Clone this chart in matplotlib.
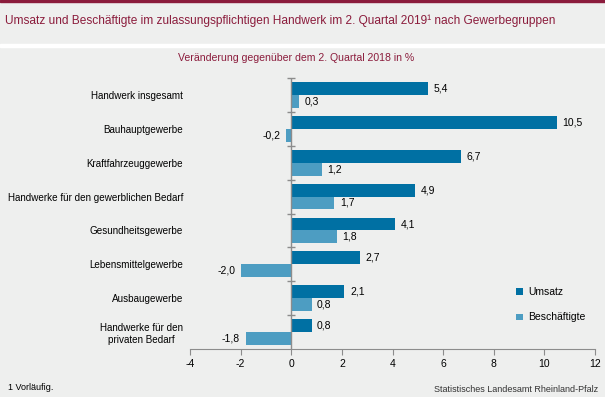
import matplotlib
matplotlib.use("Agg")
import matplotlib.pyplot as plt
from matplotlib.patches import Rectangle

plt.rcParams["font.family"] = ["Liberation Sans", "DejaVu Sans"]

categories = [
    "Handwerk insgesamt",
    "Bauhauptgewerbe",
    "Kraftfahrzeuggewerbe",
    "Handwerke für den gewerblichen Bedarf",
    "Gesundheitsgewerbe",
    "Lebensmittelgewerbe",
    "Ausbaugewerbe",
    "Handwerke für den\nprivaten Bedarf",
]
umsatz = [5.4, 10.5, 6.7, 4.9, 4.1, 2.7, 2.1, 0.8]
beschaeftigte = [0.3, -0.2, 1.2, 1.7, 1.8, -2.0, 0.8, -1.8]
xticks = [-4, -2, 0, 2, 4, 6, 8, 10, 12]

bg = "#eeefee"
red = "#8b1c3c"
c_ums = "#0070a3"
c_bes = "#4d9dc2"
grey = "#8c8c8c"

W, H = 605, 397
fig = plt.figure(figsize=(W / 100, H / 100), dpi=100, facecolor=bg)

# header decorations
fig.patches.append(Rectangle((0, 1 - 2 / H), 1, 2 / H, transform=fig.transFigure,
                             color=red, zorder=0))
fig.patches.append(Rectangle((0, 1 - 47 / H), 1, 3 / H, transform=fig.transFigure,
                             color="white", zorder=0))

fig.text(5 / W, 1 - 21 / H,
         "Umsatz und Beschäftigte im zulassungspflichtigen Handwerk im 2. Quartal 2019¹ nach Gewerbegruppen",
         color=red, fontsize=8.6, va="center", ha="left")
fig.text(178 / W, 1 - 58 / H, "Veränderung gegenüber dem 2. Quartal 2018 in %",
         color=red, fontsize=7.6, va="center", ha="left")
fig.text(8 / W, 1 - 388 / H, "1 Vorläufig.", fontsize=6.5, va="center", ha="left")
fig.text(598 / W, 1 - 389 / H, "Statistisches Landesamt Rheinland-Pfalz",
         fontsize=6.5, va="center", ha="right", color="#333333")

ax = fig.add_axes([190 / W, 48 / H, 405 / W, 271 / H])
ax.set_facecolor(bg)

y = list(range(len(categories)))
h = 0.38
y_u = [v - h / 2 for v in y]
y_b = [v + h / 2 for v in y]
ax.barh(y_u, umsatz, height=h, color=c_ums, label="Umsatz", zorder=2)
ax.barh(y_b, beschaeftigte, height=h, color=c_bes, label="Beschäftigte", zorder=2)

def fmt(v):
    return f"{v:.1f}".replace(".", ",")

for yy, vals in ((y_u, umsatz), (y_b, beschaeftigte)):
    for yi, v in zip(yy, vals):
        if v >= 0:
            ax.text(v + 0.22, yi, fmt(v), ha="left", va="center", fontsize=7.5)
        else:
            ax.text(v - 0.22, yi, fmt(v), ha="right", va="center", fontsize=7.5)

ax.set_xlim(-4, 12)
ax.set_ylim(len(categories) - 0.5, -0.5)
ax.set_xticks(xticks)
ax.set_xticklabels([str(t) for t in xticks], fontsize=7.5)
ax.set_yticks(y)
ax.set_yticklabels(categories, fontsize=7.1, multialignment="center")
ax.tick_params(axis="y", length=0, pad=5)
ax.tick_params(axis="x", length=4, color=grey, pad=3)
for s in ("top", "right", "left"):
    ax.spines[s].set_visible(False)
ax.spines["bottom"].set_color(grey)

# vertical zero axis with category boundary ticks
ax.axvline(0, color=grey, lw=1, zorder=3)
bounds = [v - 0.5 for v in y]
ax.plot([0] * len(bounds), bounds, linestyle="none", marker="_", markersize=6,
        color=grey, zorder=3, clip_on=False)

ax.legend(loc="upper left", bbox_to_anchor=(507 / W, 1 - 278 / H),
          bbox_transform=fig.transFigure, frameon=False, fontsize=7.5,
          handlelength=0.6, handleheight=0.6, handletextpad=0.5, labelspacing=1.45)

fig.savefig("out.png", dpi=100, facecolor=bg)
